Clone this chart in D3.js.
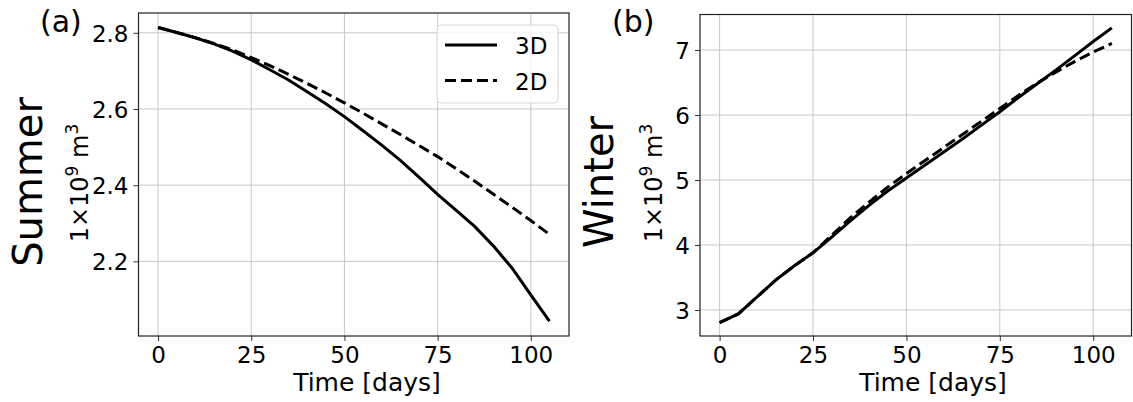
<!DOCTYPE html>
<html>
<head>
<meta charset="utf-8">
<script src="https://cdn.jsdelivr.net/npm/d3@7"></script>
<style>
  html, body { margin: 0; padding: 0; background: #fff; }
  svg { display: block; font-family: "DejaVu Sans", sans-serif; }
</style>
</head>
<body>
<svg id="chart" width="1133" height="402"></svg>
<script>
// ---- data ----
const days = [0, 5, 10, 15, 20, 25, 30, 35, 40, 45, 50, 55, 60, 65, 70, 75, 80, 85, 90, 95, 100, 105];
const summer3D = [2.814, 2.801, 2.787, 2.771, 2.752, 2.729, 2.703, 2.676, 2.645, 2.614, 2.580, 2.543, 2.505, 2.465, 2.421, 2.376, 2.334, 2.291, 2.240, 2.182, 2.112, 2.043];
const summer2D = [2.814, 2.801, 2.787, 2.772, 2.755, 2.735, 2.714, 2.691, 2.667, 2.642, 2.616, 2.589, 2.561, 2.533, 2.504, 2.475, 2.443, 2.410, 2.376, 2.342, 2.307, 2.271];
const winter3D = [2.805, 2.94, 3.20, 3.46, 3.68, 3.88, 4.12, 4.37, 4.61, 4.83, 5.03, 5.23, 5.43, 5.63, 5.84, 6.05, 6.27, 6.48, 6.69, 6.91, 7.13, 7.34];
const winter2D = [2.805, 2.94, 3.20, 3.46, 3.68, 3.88, 4.15, 4.42, 4.66, 4.89, 5.10, 5.30, 5.50, 5.70, 5.90, 6.10, 6.30, 6.49, 6.66, 6.82, 6.97, 7.10];
const xTicks = [0, 25, 50, 75, 100];
const summerYTicks = [2.2, 2.4, 2.6, 2.8];
const winterYTicks = [3, 4, 5, 6, 7];
const legendLabels = ["3D", "2D"];

const svg = d3.select("#chart");

function panel(opts) {
  const { x0, x1, y0, y1, yDomain, yTicks, yFmt, s3, s2, tag, tagX, season, seasonX, unitX, xlabelX, legend } = opts;
  const x = d3.scaleLinear().domain([-5.25, 110.25]).range([x0, x1]);
  const y = d3.scaleLinear().domain(yDomain).range([y1, y0]);
  const g = svg.append("g");

  // grid
  g.append("g").selectAll("line").data(xTicks).join("line")
    .attr("x1", d => x(d)).attr("x2", d => x(d)).attr("y1", y0).attr("y2", y1)
    .attr("stroke", "#c8c8c8").attr("stroke-width", 1);
  g.append("g").selectAll("line").data(yTicks).join("line")
    .attr("x1", x0).attr("x2", x1).attr("y1", d => y(d)).attr("y2", d => y(d))
    .attr("stroke", "#c8c8c8").attr("stroke-width", 1);

  // axes
  const xAxis = d3.axisBottom(x).tickValues(xTicks).tickSize(5).tickPadding(4).tickFormat(d3.format("d"));
  const yAxis = d3.axisLeft(y).tickValues(yTicks).tickSize(5).tickPadding(5).tickFormat(yFmt);
  const gx = g.append("g").attr("transform", `translate(0,${y1})`).call(xAxis);
  const gy = g.append("g").attr("transform", `translate(${x0},0)`).call(yAxis);
  [gx, gy].forEach(a => {
    a.select(".domain").remove();
    a.selectAll("text").attr("font-size", 23).attr("font-family", "DejaVu Sans").attr("fill", "#000");
    a.selectAll("line").attr("stroke", "#333");
  });
  gx.selectAll("text").attr("dy", null).attr("y", 27);
  gy.selectAll("text").attr("dy", "0.36em");

  // lines
  const line = d3.line().x((d, i) => x(days[i])).y(d => y(d));
  g.append("path").datum(s2).attr("d", line).attr("fill", "none")
    .attr("stroke", "#000").attr("stroke-width", 3).attr("stroke-dasharray", "11,5");
  g.append("path").datum(s3).attr("d", line).attr("fill", "none")
    .attr("stroke", "#000").attr("stroke-width", 3);

  // frame
  g.append("rect").attr("x", x0).attr("y", y0).attr("width", x1 - x0).attr("height", y1 - y0)
    .attr("fill", "none").attr("stroke", "#222").attr("stroke-width", 1.2);

  // labels
  g.append("text").attr("x", xlabelX).attr("y", 391).attr("text-anchor", "middle")
    .attr("font-size", 25).text("Time [days]");
  g.append("text").attr("x", tagX).attr("y", 32).attr("font-size", 30).text(tag);
  g.append("text").attr("transform", `translate(${seasonX},182) rotate(-90)`)
    .attr("text-anchor", "middle").attr("font-size", 40).text(season);
  const u = g.append("text").attr("transform", `translate(${unitX},183) rotate(-90)`)
    .attr("text-anchor", "middle").attr("font-size", 24);
  u.append("tspan").text("1×10");
  u.append("tspan").attr("font-size", 17).attr("dy", -10).text("9");
  u.append("tspan").attr("dy", 10).text(" m");
  u.append("tspan").attr("font-size", 17).attr("dy", -10).text("3");

  if (legend) {
    const lg = g.append("g");
    lg.append("rect").attr("x", 437).attr("y", 25).attr("width", 121).attr("height", 78).attr("rx", 4)
      .attr("fill", "#fff").attr("fill-opacity", 0.8).attr("stroke", "#d6d6d6").attr("stroke-width", 1);
    const rows = [{ y: 45, dash: null }, { y: 80.5, dash: "11,5" }];
    rows.forEach((r, i) => {
      lg.append("line").attr("x1", 445).attr("x2", 497).attr("y1", r.y).attr("y2", r.y)
        .attr("stroke", "#000").attr("stroke-width", 3).attr("stroke-dasharray", r.dash);
      lg.append("text").attr("x", 515).attr("y", r.y + 9).attr("font-size", 23).text(legendLabels[i]);
    });
  }
}

panel({
  x0: 138.5, x1: 569, y0: 13, y1: 336, yDomain: [2.004, 2.852], yTicks: summerYTicks, yFmt: d3.format(".1f"),
  s3: summer3D, s2: summer2D, tag: "(a)", tagX: 40, season: "Summer", seasonX: 42, unitX: 88, xlabelX: 367, legend: true
});
panel({
  x0: 700, x1: 1131.5, y0: 14.5, y1: 336, yDomain: [2.6, 7.546], yTicks: winterYTicks, yFmt: d3.format("d"),
  s3: winter3D, s2: winter2D, tag: "(b)", tagX: 612, season: "Winter", seasonX: 613, unitX: 662, xlabelX: 933, legend: false
});
</script>
</body>
</html>
